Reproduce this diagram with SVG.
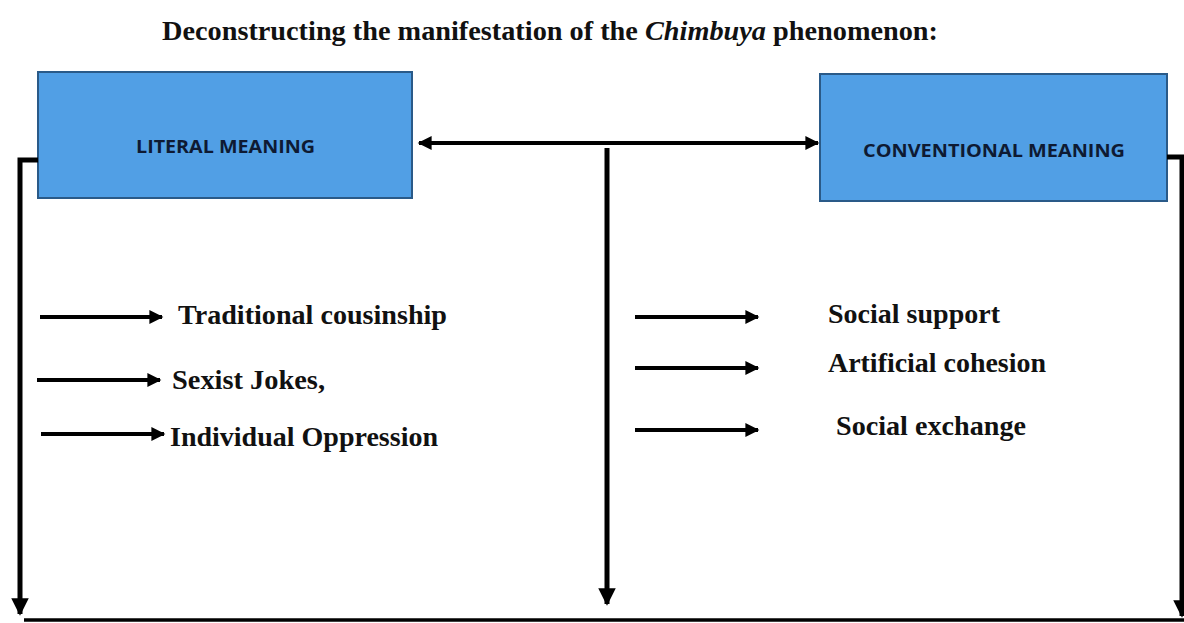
<svg xmlns="http://www.w3.org/2000/svg" width="1184" height="623" viewBox="0 0 1184 623">
<style>
.box{fill:#519FE5;stroke:#2A5A88;stroke-width:2}
.blabel{font-family:"Open Sans","Liberation Sans",sans-serif;font-weight:bold;font-size:17px;fill:#0E1A33}
.item{font-family:"Liberation Serif",serif;font-weight:bold;font-size:28px;fill:#111}
.title{font-family:"Liberation Serif",serif;font-weight:bold;font-size:28px;fill:#111}
.thick{stroke:#000;stroke-width:5;fill:none}
.mid{stroke:#000;stroke-width:4;fill:none}
.thin{stroke:#000;stroke-width:4;fill:none}
.base{stroke:#000;stroke-width:3.5;fill:none}
</style>
<defs>
<marker id="ah" viewBox="0 0 10 10" refX="9" refY="5" markerWidth="4" markerHeight="3.5" orient="auto-start-reverse" markerUnits="strokeWidth">
<path d="M0,0 L10,5 L0,10 z" fill="#000"/>
</marker>
</defs>
<text class="title" x="162" y="40" textLength="776" lengthAdjust="spacingAndGlyphs">Deconstructing the manifestation of the <tspan font-style="italic">Chimbuya</tspan> phenomenon:</text>
<g id="literal">
<rect class="box" x="38" y="72" width="374" height="126"/>
<text class="blabel" x="136" y="153" textLength="179" lengthAdjust="spacingAndGlyphs">LITERAL MEANING</text>
</g>
<g id="conventional">
<rect class="box" x="820" y="74" width="347" height="127"/>
<text class="blabel" x="863" y="157" textLength="262" lengthAdjust="spacingAndGlyphs">CONVENTIONAL MEANING</text>
</g>
<g id="items-left">
<text class="item" x="178" y="324" textLength="269" lengthAdjust="spacingAndGlyphs">Traditional cousinship</text>
<text class="item" x="172" y="389" textLength="153" lengthAdjust="spacingAndGlyphs">Sexist Jokes,</text>
<text class="item" x="170" y="446" textLength="268" lengthAdjust="spacingAndGlyphs">Individual Oppression</text>
</g>
<g id="items-right">
<text class="item" x="828" y="323" textLength="172" lengthAdjust="spacingAndGlyphs">Social support</text>
<text class="item" x="828" y="372" textLength="218" lengthAdjust="spacingAndGlyphs">Artificial cohesion</text>
<text class="item" x="836" y="435" textLength="190" lengthAdjust="spacingAndGlyphs">Social exchange</text>
</g>
<g id="connectors">
<path class="thick" d="M38,160 H20 V614" marker-end="url(#ah)"/>
<path class="thick" d="M1167,157 H1182 V616" marker-end="url(#ah)"/>
<path class="base" d="M24,620 H1184"/>
<path class="mid" d="M419,143 H818" marker-start="url(#ah)" marker-end="url(#ah)"/>
<path class="thick" d="M607,148 V604" marker-end="url(#ah)"/>
<path class="thin" d="M40,317 H162" marker-end="url(#ah)"/>
<path class="thin" d="M37,380 H160" marker-end="url(#ah)"/>
<path class="thin" d="M41,434 H164" marker-end="url(#ah)"/>
<path class="thin" d="M635,317 H758" marker-end="url(#ah)"/>
<path class="thin" d="M635,368 H758" marker-end="url(#ah)"/>
<path class="thin" d="M635,430 H758" marker-end="url(#ah)"/>
</g>
</svg>
